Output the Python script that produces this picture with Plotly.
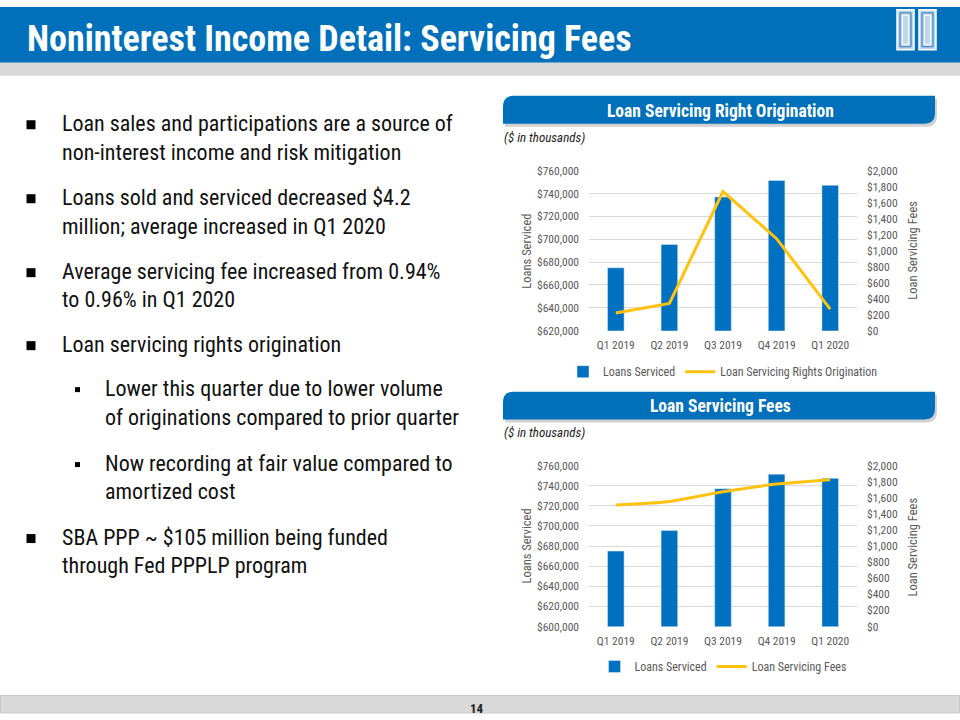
import plotly.graph_objects as go

# ---------------- data ----------------
quarters = ["Q1 2019", "Q2 2019", "Q3 2019", "Q4 2019", "Q1 2020"]
loans_serviced = [675000, 695500, 737000, 751500, 747300]
servicing_rights_origination = [220, 340, 1740, 1150, 270]
servicing_fees = [1510, 1555, 1675, 1770, 1825]

title_text = "Noninterest Income Detail: Servicing Fees"
chart1_title = "Loan Servicing Right Origination"
chart2_title = "Loan Servicing Fees"
unit_note = "($ in thousands)"
left_axis_title = "Loans Serviced"
right_axis_title = "Loan Servicing Fees"
page_number = "14"

bullets = [
    ("main", ["Loan sales and participations are a source of", "non-interest income and risk mitigation"]),
    ("main", ["Loans sold and serviced decreased $4.2", "million; average increased in Q1 2020"]),
    ("main", ["Average servicing fee increased from 0.94%", "to 0.96% in Q1 2020"]),
    ("main", ["Loan servicing rights origination"]),
    ("sub", ["Lower this quarter due to lower volume", "of originations compared to prior quarter"]),
    ("sub", ["Now recording at fair value compared to", "amortized cost"]),
    ("main", ["SBA PPP ~ $105 million being funded", "through Fed PPPLP program"]),
]
bullet_line_y = [[123, 152], [197, 226], [271, 299], [344], [388, 417], [463, 491], [537, 565]]

# ---------------- style ----------------
W, H = 960, 720
BLUE = "#0070BA"
BAR = "#0070C0"
GOLD = "#FFC20E"
GRID = "#D9D9D9"
AXTXT = "#595959"
FONT = "Roboto Condensed, Liberation Sans, sans-serif"

# the captured picture maps figure rows to (6.2 + 0.981*y); layout is specified in picture pixels
Y_OFF, Y_SCALE = 6.2, 0.981


def px(x):
    return x / W


def py(y):
    return 1 - ((y - Y_OFF) / Y_SCALE) / H


fig = go.Figure()

# chart 1
fig.add_trace(go.Bar(x=quarters, y=loans_serviced, name="Loans Serviced", marker_color=BAR,
                     xaxis="x", yaxis="y", legend="legend"))
fig.add_trace(go.Scatter(x=quarters, y=servicing_rights_origination, mode="lines",
                         name="Loan Servicing Rights Origination",
                         line=dict(color=GOLD, width=3), xaxis="x", yaxis="y2", legend="legend"))
# chart 2
fig.add_trace(go.Bar(x=quarters, y=loans_serviced, name="Loans Serviced", marker_color=BAR,
                     xaxis="x2", yaxis="y3", legend="legend2"))
fig.add_trace(go.Scatter(x=quarters, y=servicing_fees, mode="lines", name="Loan Servicing Fees",
                         line=dict(color=GOLD, width=3, shape="spline", smoothing=0.6),
                         xaxis="x2", yaxis="y4", legend="legend2"))

xdom = [px(589), px(857)]
tickfont = dict(family=FONT, size=11.5, color=AXTXT)

common_x = dict(domain=xdom, showgrid=False, showline=False, zeroline=False, ticks="",
                tickfont=tickfont, ticklabelstandoff=6)
left_y = dict(dtick=20000, tickformat="$,.0f", showgrid=True, gridcolor=GRID, gridwidth=1,
              zeroline=False, showline=False, tickfont=tickfont, ticklabelstandoff=9)
right_y = dict(range=[0, 2000], dtick=200, tickformat="$,.0f", showgrid=False, zeroline=False,
               showline=False, tickfont=tickfont, side="right", ticklabelstandoff=9)

legend_common = dict(orientation="h", xanchor="center", yanchor="middle",
                     font=dict(family=FONT, size=12, color=AXTXT), bgcolor="rgba(0,0,0,0)",
                     itemwidth=30, traceorder="normal")

fig.update_layout(
    width=W, height=H, margin=dict(l=0, r=0, t=0, b=0),
    paper_bgcolor="white", plot_bgcolor="rgba(0,0,0,0)",
    font=dict(family=FONT, color=AXTXT),
    bargap=0.69,
    xaxis=dict(common_x, anchor="y"),
    yaxis=dict(left_y, domain=[py(330), py(170)], range=[620000, 760000], anchor="x"),
    yaxis2=dict(right_y, overlaying="y", anchor="x"),
    xaxis2=dict(common_x, anchor="y3"),
    yaxis3=dict(left_y, domain=[py(626), py(465)], range=[600000, 760000], anchor="x2"),
    yaxis4=dict(right_y, overlaying="y3", anchor="x2"),
    legend=dict(legend_common, x=px(723), y=py(371)),
    legend2=dict(legend_common, x=px(723), y=py(666)),
    showlegend=True,
)

shapes = []
# title bar
shapes.append(dict(type="rect", xref="paper", yref="paper", x0=0, x1=1, y0=py(62), y1=1,
                   fillcolor=BLUE, line_width=0, layer="below"))
shapes.append(dict(type="rect", xref="paper", yref="paper", x0=0, x1=1, y0=py(75), y1=py(62),
                   fillcolor="#D9D9D9", line_width=0, layer="below"))
# footer
shapes.append(dict(type="rect", xref="paper", yref="paper", x0=px(0.5), x1=px(959.5), y0=0, y1=py(695),
                   fillcolor="#D9D9D9", line=dict(color="#C8C8C8", width=1), layer="below"))


def banner_path(x0, y0, x1, y1, r):
    pts = [("M", [(x0 + r, y0)]), ("L", [(x1, y0)]), ("L", [(x1, y1 - r)]),
           ("Q", [(x1, y1), (x1 - r, y1)]), ("L", [(x0, y1)]), ("L", [(x0, y0 + r)]),
           ("Q", [(x0, y0), (x0 + r, y0)])]
    s = ""
    for cmd, ps in pts:
        s += cmd + " " + " ".join(f"{px(a):.5f},{py(b):.5f}" for a, b in ps) + " "
    return s + "Z"


for (bx0, by0, bx1, by1) in [(503, 95, 935, 123), (503, 391, 935, 419)]:
    shapes.append(dict(type="path", xref="paper", yref="paper",
                       path=banner_path(bx0 + 2, by0 + 3, bx1 + 2, by1 + 3, 11),
                       fillcolor="rgba(0,0,0,0.18)", line_width=0, layer="below"))
    shapes.append(dict(type="path", xref="paper", yref="paper",
                       path=banner_path(bx0, by0, bx1, by1, 11),
                       fillcolor=BLUE, line_width=0, layer="below"))

# logo (two pillars)
for lx0, lx1 in [(897, 914), (919, 936)]:
    shapes.append(dict(type="rect", xref="paper", yref="paper", x0=px(lx0), x1=px(lx1),
                       y0=py(49), y1=py(9), fillcolor="#BDD7EE", line=dict(color="white", width=1.5)))
    shapes.append(dict(type="rect", xref="paper", yref="paper", x0=px(lx0 + 3), x1=px(lx1 - 3),
                       y0=py(46), y1=py(12), fillcolor="rgba(0,0,0,0)", line=dict(color="#2E75B6", width=1)))
    shapes.append(dict(type="rect", xref="paper", yref="paper", x0=px(lx0 + 5.5), x1=px(lx1 - 5.5),
                       y0=py(43.5), y1=py(14.5), fillcolor="rgba(0,0,0,0)", line=dict(color="white", width=1)))

annotations = []
annotations.append(dict(text=f"<b>{title_text}</b>", x=px(25), y=py(38), xref="paper", yref="paper",
                        xanchor="left", yanchor="middle", showarrow=False,
                        font=dict(family=FONT, size=36, color="white")))

for (kind, lines), ys in zip(bullets, bullet_line_y):
    if kind == "main":
        bx, bs, tx = 31, 9, 60
    else:
        bx, bs, tx = 77.5, 5, 103
    by = ys[0] + 1
    shapes.append(dict(type="rect", xref="paper", yref="paper", x0=px(bx - bs / 2), x1=px(bx + bs / 2),
                       y0=py(by + bs / 2), y1=py(by - bs / 2), fillcolor="black", line_width=0))
    for line, ly in zip(lines, ys):
        annotations.append(dict(text=line, x=px(tx), y=py(ly), xref="paper", yref="paper",
                                xanchor="left", yanchor="middle", showarrow=False,
                                font=dict(family=FONT, size=22, color="#111111")))

for t, cy in [(chart1_title, 110), (chart2_title, 405)]:
    annotations.append(dict(text=f"<b>{t}</b>", x=px(720), y=py(cy), xref="paper", yref="paper",
                            xanchor="center", yanchor="middle", showarrow=False,
                            font=dict(family=FONT, size=17.5, color="white")))

for cy in [137, 432]:
    annotations.append(dict(text=f"<i>{unit_note}</i>", x=px(502), y=py(cy), xref="paper", yref="paper",
                            xanchor="left", yanchor="middle", showarrow=False,
                            font=dict(family=FONT, size=13, color="#222222")))

for ly, ry in [(251, 250), (546, 547)]:
    annotations.append(dict(text=left_axis_title, x=px(527), y=py(ly), xref="paper", yref="paper",
                            xanchor="center", yanchor="middle", textangle=-90, showarrow=False,
                            font=dict(family=FONT, size=12.5, color=AXTXT)))
    annotations.append(dict(text=right_axis_title, x=px(913), y=py(ry), xref="paper", yref="paper",
                            xanchor="center", yanchor="middle", textangle=-90, showarrow=False,
                            font=dict(family=FONT, size=12.5, color=AXTXT)))

annotations.append(dict(text=f"<b>{page_number}</b>", x=px(477), y=py(708), xref="paper", yref="paper",
                        xanchor="center", yanchor="middle", showarrow=False,
                        font=dict(family=FONT, size=13, color="#222222")))

fig.update_layout(shapes=shapes, annotations=annotations)

page_fix = (
    "document.documentElement.style.margin='0';"
    "document.documentElement.style.overflow='hidden';"
    "document.body.style.margin='0';"
    "document.body.style.overflow='hidden';"
    "var gd=document.getElementById('{plot_id}');"
    "gd.style.position='fixed';gd.style.top='0px';gd.style.left='0px';"
)

fig.write_html("out.html", config={"displayModeBar": False}, post_script=page_fix)
